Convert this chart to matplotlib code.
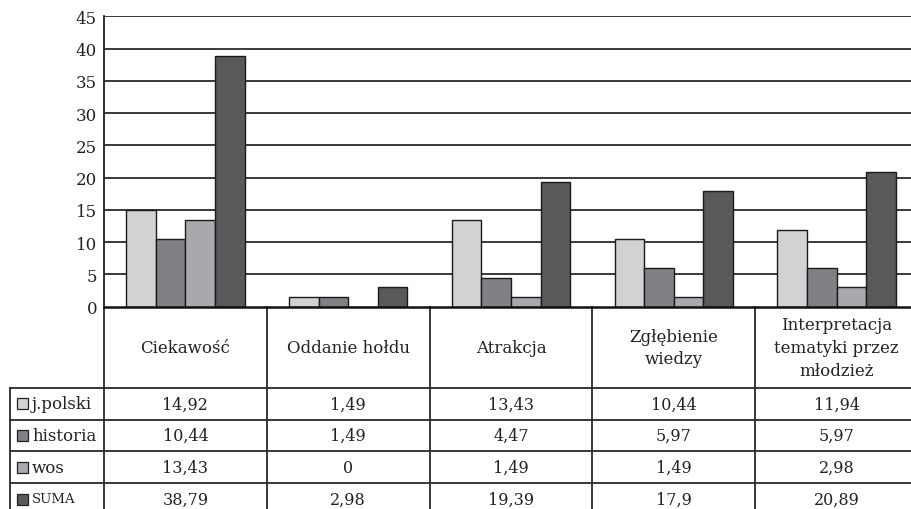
import matplotlib
matplotlib.use("Agg")
import matplotlib.pyplot as plt
from matplotlib.patches import Rectangle
import numpy as np

categories = ["Ciekawość", "Oddanie hołdu", "Atrakcja", "Zgłębienie\nwiedzy",
              "Interpretacja\ntematyki przez\nmłodzież"]
series_names = ["j.polski", "historia", "wos", "SUMA"]
j_polski = [14.92, 1.49, 13.43, 10.44, 11.94]
historia = [10.44, 1.49, 4.47, 5.97, 5.97]
wos = [13.43, 0, 1.49, 1.49, 2.98]
suma = [38.79, 2.98, 19.39, 17.9, 20.89]
cell_text = [["14,92", "1,49", "13,43", "10,44", "11,94"],
             ["10,44", "1,49", "4,47", "5,97", "5,97"],
             ["13,43", "0", "1,49", "1,49", "2,98"],
             ["38,79", "2,98", "19,39", "17,9", "20,89"]]
yticks = list(range(0, 50, 5))

series = [j_polski, historia, wos, suma]
colors = ["#d1d2d4", "#808184", "#a8a9ac", "#58595b"]

FONT = "DejaVu Serif"
plt.rcParams['font.family'] = [FONT]

W, H = 911, 510
fig = plt.figure(figsize=(W / 100, H / 100), dpi=100)

ax_l, ax_r, ax_t, ax_b = 104, 918, 17.3, 307.7
ax = fig.add_axes([ax_l / W, 1 - ax_b / H, (ax_r - ax_l) / W, (ax_b - ax_t) / H])
n = len(categories)
x = np.arange(n)
bw = 0.182
for i, (vals, c) in enumerate(zip(series, colors)):
    ax.bar(x + (i - 1.5) * bw, vals, bw, color=c, edgecolor="#1a1a1a", linewidth=1.0, zorder=3)
ax.set_xlim(-0.5, n - 0.5)
ax.set_ylim(0, 45)
ax.set_yticks(yticks)
ax.set_yticklabels([str(t) for t in yticks], fontsize=12, color="#222222")
ax.set_xticks([])
ax.tick_params(axis="y", length=0, pad=5)
for t in yticks[1:]:
    ax.axhline(t, color="#2a2a2a", linewidth=1.3, zorder=1)
for s in ["top", "right", "bottom"]:
    ax.spines[s].set_visible(False)
ax.spines["left"].set_color("#222222")
ax.spines["left"].set_linewidth(1.3)

# overlay for table in pixel coords
ov = fig.add_axes([0, 0, 1, 1], facecolor="none")
ov.set_xlim(0, W)
ov.set_ylim(H, 0)
ov.axis("off")
lc = "#2a2a2a"
lw = 1.3
col_edges = [104 + k * (918 - 104) / n for k in range(n + 1)]
row_tops = [389, 420.7, 452.3, 484, 516]
# axis baseline
ov.plot([104, 918], [307.7, 307.7], color="#111111", lw=1.8, zorder=5)
for y in row_tops[:-1]:
    ov.plot([10, 918], [y, y], color=lc, lw=lw)
ov.plot([10, 10], [389, 516], color=lc, lw=lw)
for xe in col_edges[:-1]:
    ov.plot([xe, xe], [307.7, 516], color=lc, lw=lw)

fs = 12
for k, cat in enumerate(categories):
    cx = (col_edges[k] + col_edges[k + 1]) / 2
    ov.text(cx, 348.5, cat, ha="center", va="center", fontsize=fs, color="#222222",
            linespacing=1.45)
for r, name in enumerate(series_names):
    cy = (row_tops[r] + min(row_tops[r + 1], 516)) / 2
    ov.add_patch(Rectangle((17, cy - 5.5), 11, 11, facecolor=colors[r], edgecolor="#222222", lw=0.9))
    ov.text(32, cy, name, ha="left", va="center", fontsize=(fs - 2.5 if name == "SUMA" else fs),
            color="#222222")
    for k in range(n):
        cx = (col_edges[k] + col_edges[k + 1]) / 2
        ov.text(cx, cy, cell_text[r][k], ha="center", va="center", fontsize=fs - 0.5, color="#222222")

fig.savefig("out.png", dpi=100)
